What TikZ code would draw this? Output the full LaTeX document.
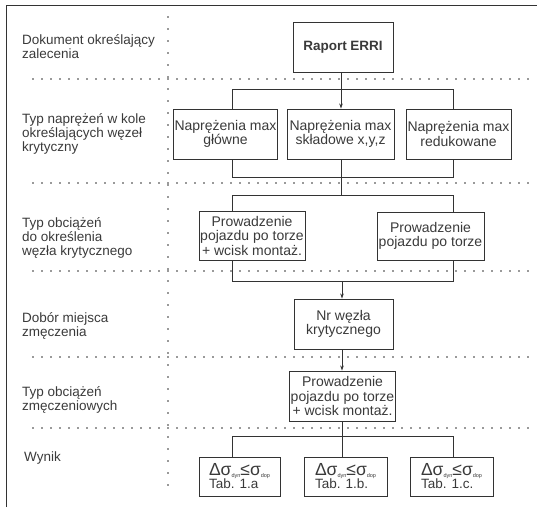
\documentclass[tikz,border=0pt]{standalone}
\usepackage{fontspec}
\setmainfont{Liberation Sans}
\usetikzlibrary{arrows.meta}
\definecolor{ink}{HTML}{333333}
\definecolor{txt}{HTML}{3A3A3A}
\newcommand{\sgsub}[1]{\raisebox{-2pt}{\fontsize{5.5}{6}\selectfont #1}}
\newcommand{\sgline}[1]{{\fontsize{17.5}{18}\selectfont Δσ\sgsub{dyn}≤σ\sgsub{dop}}\\[-1pt]#1}
\begin{document}
\begin{tikzpicture}[x=1pt,y=-1pt,
  box/.style={draw=ink,line width=0.9pt,text=txt,inner sep=1pt,align=center,
    font=\fontsize{14}{14.5}\selectfont},
  resbox/.style={draw=ink,line width=0.9pt,text=txt,inner sep=1pt,align=left,
    font=\fontsize{13.5}{14}\selectfont,minimum width=82pt,minimum height=39pt},
  lbl/.style={anchor=west,align=left,inner sep=0pt,text=txt,
    font=\fontsize{13.5}{14}\selectfont},
  dotline/.style={draw=ink,line width=1.8pt,line cap=round,dash pattern=on 0pt off 9pt},
  vdotline/.style={draw=ink,line width=1.8pt,line cap=round,dash pattern=on 0pt off 12pt},
  conn/.style={draw=ink,line width=0.8pt},
  arr/.style={conn,-{Stealth[length=5pt,width=3.5pt]}},
  frame/.style={draw=ink,line width=1pt}]
\useasboundingbox (0,0) rectangle (537,511);

% frame
\coordinate (fb) at (6,507);
\coordinate (fc) at (6,6);
\coordinate (fr) at (537,6);
\draw[frame] (fb) -- (fc) -- (fr);

% dotted grid
\coordinate (vt) at (168,17);
\coordinate (vb) at (168,495);
\draw[vdotline] (vt) -- (vb);
\foreach \yy [count=\i] in {79,183,271,357,428}{
  \coordinate (hl\i) at (33,\yy);
  \coordinate (hr\i) at (530,\yy);
  \draw[dotline] (hl\i) -- (hr\i);
}

% left labels
\node[lbl] (l1) at (22,47) {Dokument określający\\zalecenia};
\node[lbl] (l2) at (22,134) {Typ naprężeń w kole\\określających węzeł\\krytyczny};
\node[lbl] (l3) at (22,238) {Typ obciążeń\\do określenia\\węzła krytycznego};
\node[lbl] (l4) at (22,326) {Dobór miejsca\\zmęczenia};
\node[lbl] (l5) at (22,400) {Typ obciążeń\\zmęczeniowych};
\node[lbl] (l6) at (24,458) {Wynik};

% boxes
\node[box,minimum width=100pt,minimum height=50pt,font=\fontsize{13.5}{14}\selectfont\bfseries] (raport) at (343,47) {Raport ERRI};
\node[box,minimum width=103pt,minimum height=50pt] (n1) at (225.5,134) {Naprężenia max\\główne};
\node[box,minimum width=107pt,minimum height=50pt] (n2) at (340.5,134) {Naprężenia max\\składowe x,y,z};
\node[box,minimum width=105pt,minimum height=50pt] (n3) at (458.5,134) {Naprężenia max\\redukowane};
\node[box,minimum width=106pt,minimum height=49pt] (p1) at (252,235.5) {Prowadzenie\\pojazdu po torze\\+ wcisk montaż.};
\node[box,minimum width=107pt,minimum height=48pt] (p2) at (430.5,236) {Prowadzenie\\pojazdu po torze};
\node[box,minimum width=99pt,minimum height=50pt] (nr) at (343.5,324) {Nr węzła\\krytycznego};
\node[box,minimum width=105pt,minimum height=50pt] (pz) at (342.5,396) {Prowadzenie\\pojazdu po torze\\+ wcisk montaż.};
\node[resbox,minimum width=81pt] (r1) at (239.5,476.5) {\sgline{Tab. 1.a}};
\node[resbox,minimum width=83pt] (r2) at (345.5,476.5) {\sgline{Tab. 1.b.}};
\node[resbox,minimum width=83pt] (r3) at (451.5,476.5) {\sgline{Tab. 1.c.}};

% connectors row 1 -> row 2
\coordinate (a1) at (232,89);
\coordinate (a2) at (453,89);
\coordinate (ac) at (341,89);
\draw[conn] (a1) -- (a2);
\draw[arr] (raport.south -| ac) -- (n2.north -| ac);
\draw[conn] (a1) -- (a1 |- n1.north);
\draw[conn] (a2) -- (a2 |- n3.north);

% row 2 -> row 3
\coordinate (b1) at (232,177);
\coordinate (b2) at (453,177);
\coordinate (c1) at (232,195);
\coordinate (c2) at (453,195);
\coordinate (cc) at (341,195);
\draw[conn] (n1.south -| b1) -- (b1) -- (b2) -- (n3.south -| b2);
\draw[conn] (n2.south -| cc) -- (cc);
\draw[conn] (c1) -- (c2);
\draw[conn] (c1) -- (c1 |- p1.north);
\draw[conn] (c2) -- (c2 |- p2.north);

% row 3 -> row 4
\coordinate (d1) at (232,281);
\coordinate (d2) at (453,281);
\coordinate (dc) at (342,281);
\draw[conn] (p1.south -| d1) -- (d1) -- (d2) -- (p2.south -| d2);
\draw[arr] (dc) -- (nr.north -| dc);

% row 4 -> row 5
\coordinate (ec) at (342,349);
\draw[arr] (nr.south -| ec) -- (pz.north -| ec);

% row 5 -> row 6
\coordinate (f1) at (232,436);
\coordinate (f2) at (453,436);
\coordinate (fcn) at (342,436);
\draw[conn] (pz.south -| fcn) -- (fcn);
\draw[conn] (f1) -- (f2);
\draw[conn] (f1) -- (f1 |- r1.north);
\draw[conn] (fcn) -- (fcn |- r2.north);
\draw[conn] (f2) -- (f2 |- r3.north);
\end{tikzpicture}
\end{document}
